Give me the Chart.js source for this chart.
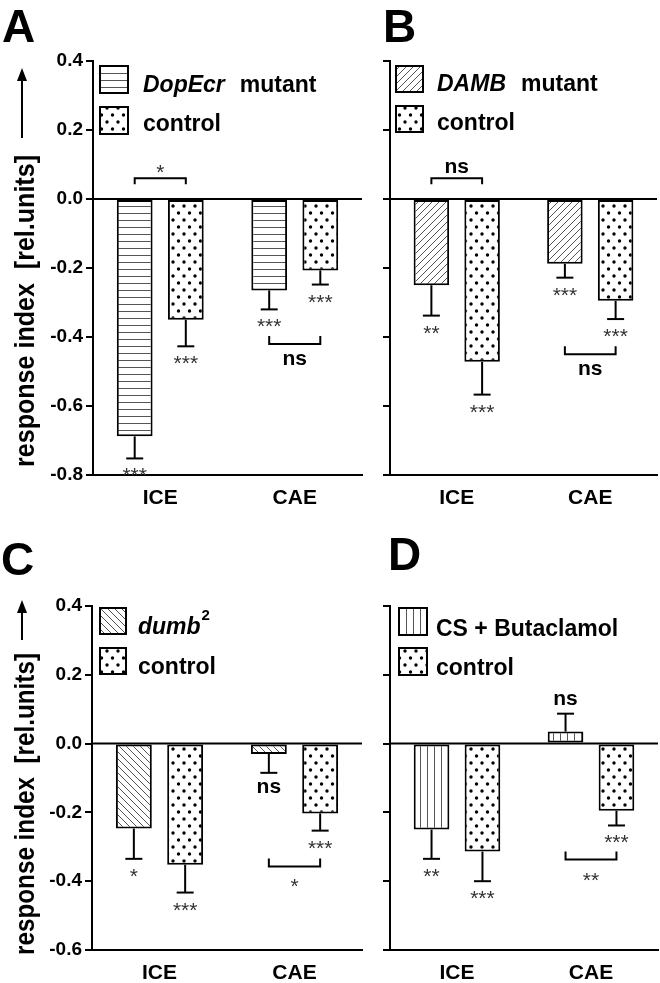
<!DOCTYPE html>
<html><head><meta charset="utf-8">
<script src="https://cdn.jsdelivr.net/npm/chart.js@4.4.0/dist/chart.umd.min.js"></script>
<style>
html,body{margin:0;padding:0;background:#fff;width:660px;height:983px;overflow:hidden;}
canvas{position:absolute;}
</style></head><body>
<canvas id="cA" style="left:0;top:0" width="375" height="515"></canvas>
<canvas id="cB" style="left:375px;top:0" width="285" height="515"></canvas>
<canvas id="cC" style="left:0;top:515px" width="375" height="468"></canvas>
<canvas id="cD" style="left:375px;top:515px" width="285" height="468"></canvas>
<script>
// ---------------- DATA ----------------
const categories = ['ICE', 'CAE'];
const yTicksAB = [0.4, 0.2, 0.0, -0.2, -0.4, -0.6, -0.8];
const yTicksCD = [0.4, 0.2, 0.0, -0.2, -0.4, -0.6];
const yTitle = 'response index  [rel.units]';

// Panel A
const aMutant = [-0.688, -0.265];
const aMutantErr = [0.064, 0.055];
const aControl = [-0.350, -0.207];
const aControlErr = [0.077, 0.041];
const aMutantSig = ['***', '***'];
const aControlSig = ['***', '***'];
const aBrackets = [{cat: 0, y: 0.06, label: '*', side: 'above'}, {cat: 1, y: -0.42, label: 'ns', side: 'below'}];
const aLegend = [[{t: 'DopEcr', i: true}, {t: 'mutant', gap: 15}], [{t: 'control'}]];

// Panel B
const bMutant = [-0.250, -0.188];
const bMutantErr = [0.088, 0.040];
const bControl = [-0.472, -0.295];
const bControlErr = [0.095, 0.053];
const bMutantSig = ['**', '***'];
const bControlSig = ['***', '***'];
const bBrackets = [{cat: 0, y: 0.06, label: 'ns', side: 'above'}, {cat: 1, y: -0.45, label: 'ns', side: 'below'}];
const bLegend = [[{t: 'DAMB', i: true}, {t: 'mutant', gap: 15}], [{t: 'control'}]];

// Panel C
const cMutant = [-0.247, -0.030];
const cMutantErr = [0.088, 0.055];
const cControl = [-0.352, -0.203];
const cControlErr = [0.081, 0.050];
const cMutantSig = ['*', 'ns'];
const cControlSig = ['***', '***'];
const cBrackets = [{cat: 1, y: -0.357, label: '*', side: 'below'}];
const cLegend = [[{t: 'dumb', i: true}, {t: '2', sup: true}], [{t: 'control'}]];

// Panel D
const dMutant = [-0.250, 0.035];
const dMutantErr = [0.085, 0.052];
const dControl = [-0.314, -0.195];
const dControlErr = [0.086, 0.043];
const dMutantSig = ['**', 'ns'];
const dControlSig = ['***', '***'];
const dBrackets = [{cat: 1, y: -0.337, label: '**', side: 'below'}];
const dLegend = [[{t: 'CS + Butaclamol'}], [{t: 'control'}]];

// ---------------- PATTERNS ----------------
const FONT = 'Arial, "Liberation Sans", sans-serif';
function makePattern(kind) {
  const c = document.createElement('canvas');
  let w = 7, h = 7;
  if (kind === 'dots') { w = 11; h = 14; }
  c.width = w; c.height = h;
  const g = c.getContext('2d');
  g.fillStyle = '#fff'; g.fillRect(0, 0, w, h);
  g.strokeStyle = '#555'; g.lineWidth = 1; g.fillStyle = '#000';
  g.beginPath();
  if (kind === 'h') { g.moveTo(0, 3.5); g.lineTo(w, 3.5); }
  else if (kind === 'v') { g.moveTo(3.5, 0); g.lineTo(3.5, h); }
  else if (kind === 'fwd') { g.moveTo(-1, h + 1); g.lineTo(w + 1, -1); g.moveTo(-1, 1); g.lineTo(1, -1); g.moveTo(w - 1, h + 1); g.lineTo(w + 1, h - 1); }
  else if (kind === 'back') { g.moveTo(-1, -1); g.lineTo(w + 1, h + 1); g.moveTo(w - 1, -1); g.lineTo(w + 1, 1); g.moveTo(-1, h - 1); g.lineTo(1, h + 1); }
  if (kind !== 'dots') { g.stroke(); }
  else {
    g.beginPath(); g.arc(2.5, 3, 1.7, 0, Math.PI * 2); g.fill();
    g.beginPath(); g.arc(8, 10, 1.7, 0, Math.PI * 2); g.fill();
  }
  return g.createPattern(c, 'repeat');
}
const P = {h: makePattern('h'), v: makePattern('v'), fwd: makePattern('fwd'), back: makePattern('back'), dots: makePattern('dots')};

// ---------------- LAYOUT ----------------
const panels = {
  cA: {mutant: aMutant, mutantErr: aMutantErr, control: aControl, controlErr: aControlErr, mutantSig: aMutantSig, controlSig: aControlSig,
       brackets: aBrackets, legend: aLegend, pat: P.h, ticks: yTicksAB, min: -0.8, max: 0.4,
       top: 61, right: 13, yw: 93, xh: 40, showTicks: true, letter: 'A', letterPos: [2, 42],
       boxes: [[100, 66, 28, 27], [100, 107, 28, 27]], texts: [[143, 92], [143, 131]],
       title: {x: 34, cy: 311, len: 312}, arrow: {x: 22, y0: 138, y1: 68}},
  cB: {mutant: bMutant, mutantErr: bMutantErr, control: bControl, controlErr: bControlErr, mutantSig: bMutantSig, controlSig: bControlSig,
       brackets: bBrackets, legend: bLegend, pat: P.fwd, ticks: yTicksAB, min: -0.8, max: 0.4,
       top: 61, right: 3, yw: 15, xh: 40, showTicks: false, letter: 'B', letterPos: [8, 42],
       boxes: [[21, 66, 27, 26], [21, 106, 27, 26]], texts: [[62, 91], [62, 130]]},
  cC: {mutant: cMutant, mutantErr: cMutantErr, control: cControl, controlErr: cControlErr, mutantSig: cMutantSig, controlSig: cControlSig,
       brackets: cBrackets, legend: cLegend, pat: P.back, ticks: yTicksCD, min: -0.6, max: 0.4,
       top: 91, right: 13, yw: 92, xh: 33, showTicks: true, letter: 'C', letterPos: [1, 60],
       boxes: [[100, 93, 26, 26], [100, 133, 26, 26]], texts: [[138, 119], [138, 159]],
       title: {x: 34, cy: 289, len: 302}, arrow: {x: 22, y0: 125, y1: 85}},
  cD: {mutant: dMutant, mutantErr: dMutantErr, control: dControl, controlErr: dControlErr, mutantSig: dMutantSig, controlSig: dControlSig,
       brackets: dBrackets, legend: dLegend, pat: P.v, ticks: yTicksCD, min: -0.6, max: 0.4,
       top: 91, right: 2, yw: 15, xh: 33, showTicks: false, letter: 'D', letterPos: [13, 55],
       boxes: [[24, 93, 28, 27], [24, 133, 28, 27]], texts: [[61, 121], [61, 160]]}
};

function line(ctx, x0, y0, x1, y1) { ctx.beginPath(); ctx.moveTo(x0, y0); ctx.lineTo(x1, y1); ctx.stroke(); }

const annot = {
  id: 'annot',
  afterDatasetsDraw(chart) {
    const cfg = panels[chart.canvas.id];
    const ctx = chart.ctx, ys = chart.scales.y, ca = chart.chartArea;
    ctx.save();
    ctx.strokeStyle = '#000'; ctx.fillStyle = '#000'; ctx.lineWidth = 2; ctx.lineCap = 'butt';
    const y0 = ys.getPixelForValue(0);
    line(ctx, ca.left, y0, ca.right, y0);
    ctx.textAlign = 'center'; ctx.textBaseline = 'alphabetic';
    chart.data.datasets.forEach((ds, di) => {
      const meta = chart.getDatasetMeta(di);
      meta.data.forEach((bar, j) => {
        const v = ds.data[j], e = ds.err[j];
        const end = v < 0 ? v - e : v + e;
        const p0 = ys.getPixelForValue(v), p1 = ys.getPixelForValue(end);
        line(ctx, bar.x, p0, bar.x, p1);
        line(ctx, bar.x - 8.5, p1, bar.x + 8.5, p1);
        const s = ds.sig[j];
        if (s === 'ns') {
          ctx.font = 'bold 21px ' + FONT; ctx.fillStyle = '#000';
          ctx.fillText(s, bar.x, v < 0 ? p1 + 20 : p1 - 9);
        } else {
          ctx.font = '21px ' + FONT; ctx.fillStyle = '#333';
          ctx.fillText(s, bar.x, p1 + 24);
        }
      });
    });
    ctx.fillStyle = '#000';
    cfg.brackets.forEach(b => {
      const xa = chart.getDatasetMeta(0).data[b.cat].x, xb = chart.getDatasetMeta(1).data[b.cat].x;
      const py = ys.getPixelForValue(b.y);
      const tk = b.side === 'above' ? 6 : -8;
      ctx.beginPath(); ctx.moveTo(xa, py + tk); ctx.lineTo(xa, py); ctx.lineTo(xb, py); ctx.lineTo(xb, py + tk); ctx.stroke();
      const xm = (xa + xb) / 2;
      if (b.label === 'ns') {
        ctx.font = 'bold 21px ' + FONT; ctx.fillStyle = '#000';
        ctx.fillText('ns', xm, b.side === 'above' ? py - 5 : py + 21);
      } else {
        ctx.font = '21px ' + FONT; ctx.fillStyle = '#333';
        ctx.fillText(b.label, xm, b.side === 'above' ? py + 1 : py + 27);
      }
    });
    ctx.restore();
  },
  afterDraw(chart) {
    const cfg = panels[chart.canvas.id];
    const ctx = chart.ctx;
    ctx.save();
    ctx.fillStyle = '#000'; ctx.strokeStyle = '#000';
    // panel letter
    ctx.font = 'bold 46px ' + FONT; ctx.textAlign = 'left'; ctx.textBaseline = 'alphabetic';
    ctx.fillText(cfg.letter, cfg.letterPos[0], cfg.letterPos[1]);
    // legend
    const pats = [cfg.pat, P.dots];
    cfg.boxes.forEach((bx, k) => {
      ctx.fillStyle = pats[k]; ctx.fillRect(bx[0], bx[1], bx[2], bx[3]);
      ctx.lineWidth = 2; ctx.strokeStyle = '#000'; ctx.strokeRect(bx[0], bx[1], bx[2], bx[3]);
      ctx.fillStyle = '#000';
      let x = cfg.texts[k][0]; const by = cfg.texts[k][1];
      cfg.legend[k].forEach(part => {
        if (part.gap) x += part.gap;
        if (part.sup) {
          ctx.font = 'bold 15px ' + FONT; ctx.fillText(part.t, x + 1, by - 14); x += ctx.measureText(part.t).width + 1;
        } else {
          ctx.font = (part.i ? 'italic ' : '') + 'bold 23px ' + FONT;
          ctx.fillText(part.t, x, by); x += ctx.measureText(part.t).width;
        }
      });
    });
    // y title and arrow
    if (cfg.title) {
      ctx.save();
      ctx.translate(cfg.title.x, cfg.title.cy);
      ctx.rotate(-Math.PI / 2);
      ctx.font = 'bold 28px ' + FONT;
      const w = ctx.measureText(yTitle).width;
      ctx.scale(cfg.title.len / w, 1);
      ctx.textAlign = 'center'; ctx.textBaseline = 'alphabetic';
      ctx.fillText(yTitle, 0, 0);
      ctx.restore();
      const a = cfg.arrow;
      ctx.lineWidth = 2;
      line(ctx, a.x, a.y0, a.x, a.y1 + 10);
      ctx.beginPath(); ctx.moveTo(a.x, a.y1); ctx.lineTo(a.x - 5, a.y1 + 13); ctx.lineTo(a.x + 5, a.y1 + 13); ctx.closePath(); ctx.fill();
    }
    ctx.restore();
  }
};

function fmt(v) { return Math.abs(v) < 1e-9 ? '0.0' : v.toFixed(1); }

function makePanel(id) {
  const cfg = panels[id];
  const dsBase = {borderColor: '#000', borderWidth: 2, borderSkipped: false, categoryPercentage: 0.76, barPercentage: 0.7};
  return new Chart(document.getElementById(id), {
    type: 'bar',
    data: {
      labels: categories,
      datasets: [
        Object.assign({}, dsBase, {data: cfg.mutant, err: cfg.mutantErr, sig: cfg.mutantSig, backgroundColor: cfg.pat}),
        Object.assign({}, dsBase, {data: cfg.control, err: cfg.controlErr, sig: cfg.controlSig, backgroundColor: P.dots})
      ]
    },
    options: {
      responsive: false, maintainAspectRatio: false, animation: false, events: [],
      layout: {padding: {left: 0, top: cfg.top, right: cfg.right, bottom: 0}},
      plugins: {legend: {display: false}, tooltip: {enabled: false}},
      scales: {
        x: {
          grid: {display: false, drawTicks: false},
          border: {display: true, color: '#000', width: 2},
          ticks: {color: '#000', font: {family: FONT, weight: 'bold', size: 21}, padding: 11},
          afterFit: s => { s.height = cfg.xh; }
        },
        y: {
          min: cfg.min, max: cfg.max,
          afterBuildTicks: s => { s.ticks = cfg.ticks.map(v => ({value: v})); },
          grid: {display: true, drawOnChartArea: false, drawTicks: true, tickLength: 7, color: '#000', lineWidth: 2},
          border: {display: true, color: '#000', width: 2},
          ticks: {display: cfg.showTicks, color: '#000', font: {family: FONT, weight: 'bold', size: 19}, padding: 3, callback: v => fmt(v)},
          afterFit: s => { s.width = cfg.yw; }
        }
      }
    },
    plugins: [annot]
  });
}
['cA', 'cB', 'cC', 'cD'].forEach(makePanel);
</script>
</body></html>
